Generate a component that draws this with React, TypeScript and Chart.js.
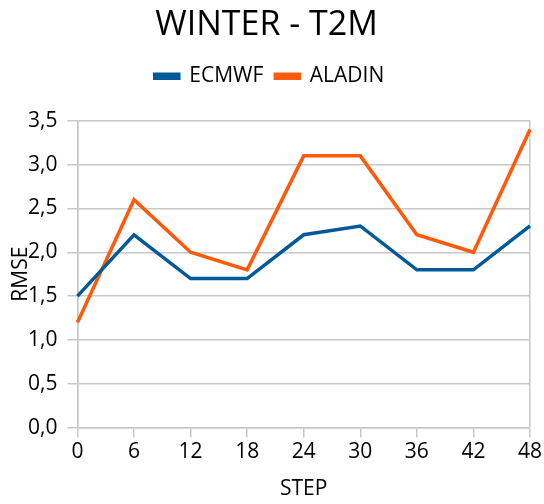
import React, { useEffect, useRef } from "react";
import { Chart, registerables } from "chart.js";

Chart.register(...registerables);

const steps = ["0", "6", "12", "18", "24", "30", "36", "42", "48"];
const ecmwf = [1.5, 2.2, 1.7, 1.7, 2.2, 2.3, 1.8, 1.8, 2.3];
const aladin = [1.2, 2.6, 2.0, 1.8, 3.1, 3.1, 2.2, 2.0, 3.4];

const FONT = "'Open Sans', sans-serif";
const GRID = "#c8c8c8";
const BLUE = "#005a9a";
const ORANGE = "#ff5a0a";

export default function App() {
  const ref = useRef<HTMLCanvasElement>(null);

  useEffect(() => {
    document.body.style.margin = "0";
    const canvas = ref.current!;
    const yTitlePlugin = {
      id: "yTitle",
      beforeLayout(chart: any) {
        const lg = chart.legend;
        if (lg && !lg._wrapped) {
          const orig = lg.fit.bind(lg);
          lg.fit = function () {
            orig();
            this.height += 24;
          };
          lg._wrapped = true;
        }
      },
      afterLayout(chart: any) {
        const t = chart.titleBlock;
        if (t) t.right = t.right - 16;
        const lg = chart.legend;
        if (lg) lg.right = lg.right - 10;
      },
      afterDraw(chart: any) {
        const { ctx, chartArea } = chart;
        ctx.save();
        ctx.translate(chartArea.left - 56, (chartArea.top + chartArea.bottom) / 2);
        ctx.rotate(-Math.PI / 2);
        ctx.font = `21px ${FONT}`;
        ctx.fillStyle = "#000";
        ctx.textAlign = "center";
        ctx.textBaseline = "middle";
        ctx.fillText("RMSE", 0, 0);
        ctx.restore();
      },
    };

    const chart = new Chart(canvas, {
      type: "line",
      data: {
        labels: steps,
        datasets: [
          {
            label: "ECMWF",
            data: ecmwf,
            borderColor: BLUE,
            backgroundColor: BLUE,
            borderWidth: 3.5,
            pointRadius: 0,
            tension: 0,
          },
          {
            label: "ALADIN",
            data: aladin,
            borderColor: ORANGE,
            backgroundColor: ORANGE,
            borderWidth: 3.5,
            pointRadius: 0,
            tension: 0,
          },
        ],
      },
      options: {
        animation: false,
        responsive: false,
        layout: { padding: { left: 18, right: 13, top: 0, bottom: 2 } },
        plugins: {
          title: {
            display: true,
            text: "WINTER - T2M",
            color: "#000",
            font: { family: FONT, size: 34, weight: "normal", lineHeight: 1.2 },
            padding: { top: 5, bottom: 8 },
          },
          legend: {
            display: true,
            labels: {
              color: "#000",
              font: { family: FONT, size: 21 },
              boxWidth: 24,
              boxHeight: 4,
              padding: 12,
            },
          },
          tooltip: { enabled: false },
        },
        scales: {
          x: {
            type: "category",
            offset: false,
            grid: {
              color: (c: any) => (c.index === 0 || c.index === steps.length - 1 ? GRID : "rgba(0,0,0,0)"),
              tickColor: GRID,
              tickLength: 10,
              lineWidth: 1.5,
            },
            border: { color: GRID, width: 1.5 },
            ticks: { color: "#000", font: { family: FONT, size: 21 }, padding: 2, maxRotation: 0 },
            title: { display: true, text: "STEP", color: "#000", font: { family: FONT, size: 21 }, padding: { top: 10, bottom: 0 } },
          },
          y: {
            min: 0,
            max: 3.5,
            grid: { color: GRID, tickLength: 10, lineWidth: 1.5 },
            border: { color: GRID, width: 1.5 },
            ticks: {
              stepSize: 0.5,
              color: "#000",
              font: { family: FONT, size: 21 },
              padding: 10,
              callback: (v: any) => Number(v).toFixed(1).replace(".", ","),
            },
          },
        },
      },
      plugins: [yTitlePlugin],
    });
    return () => chart.destroy();
  }, []);

  return <canvas ref={ref} width={544} height={504} style={{ display: "block" }} />;
}
